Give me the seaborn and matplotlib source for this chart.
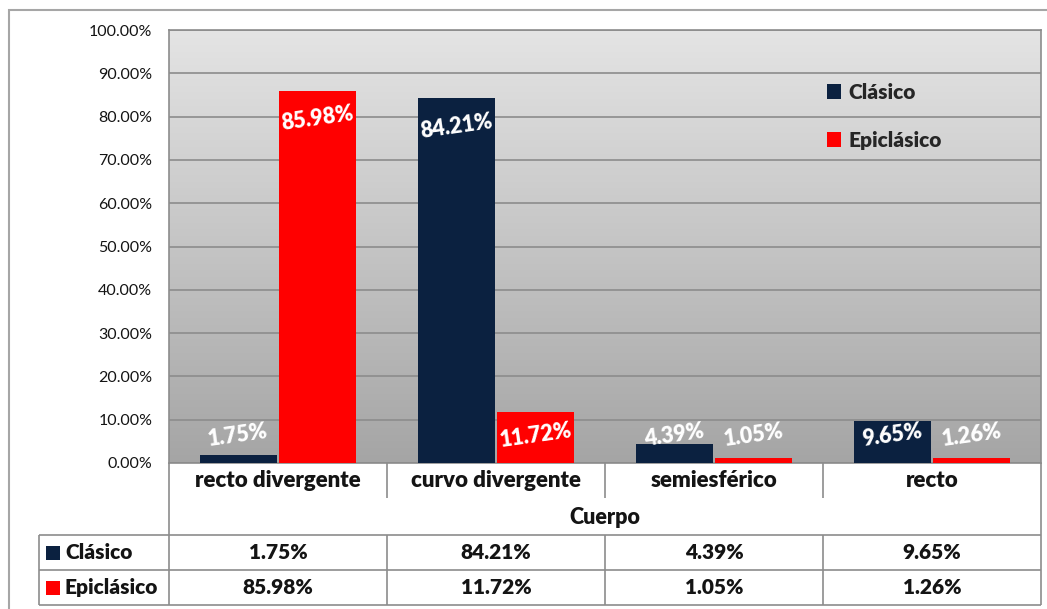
import numpy as np
import pandas as pd
import matplotlib
matplotlib.use("Agg")
import matplotlib.pyplot as plt
from matplotlib.colors import LinearSegmentedColormap
from matplotlib.lines import Line2D
from matplotlib.patches import Rectangle, Patch
import seaborn as sns

# ---- data ----
categorias = ["recto divergente", "curvo divergente", "semiesférico", "recto"]
series = ["Clásico", "Epiclásico"]
clasico = [1.75, 84.21, 4.39, 9.65]
epiclasico = [85.98, 11.72, 1.05, 1.26]
colores = ["#0B2140", "#FF0000"]
yticks = list(range(0, 101, 10))
titulo_eje = "Cuerpo"

sns.set_style("white")
plt.rcParams["font.family"] = ["Lato", "DejaVu Sans"]

df = pd.DataFrame({
    "categoria": categorias * 2,
    "serie": [series[0]] * 4 + [series[1]] * 4,
    "valor": clasico + epiclasico,
})

# ---- layout (pixels) ----
W, H = 1047, 609
PL, PT, PR, PB = 169, 30, 1041, 463      # plot area
TL, TB = 39, 605                          # data table left / bottom
GRID = "#8C8C8C"
TXT = "#141414"
WB = "heavy"

fig = plt.figure(figsize=(W / 100, H / 100), dpi=100)
fig.patch.set_facecolor("white")


def box(l, t, r, b):
    return [l / W, 1 - b / H, (r - l) / W, (b - t) / H]


ax = fig.add_axes(box(PL, PT, PR, PB))

# gradient background of the plot area
cmap = LinearSegmentedColormap.from_list("fondo", ["#E4E4E4", "#A5A5A5"])
ax.imshow(np.linspace(0, 1, 256).reshape(-1, 1), cmap=cmap, aspect="auto",
          extent=(-0.5, len(categorias) - 0.5, 0, 100), zorder=0)

sns.barplot(data=df, x="categoria", y="valor", hue="serie", order=categorias,
            hue_order=series, palette=colores, saturation=1, width=0.73,
            gap=0.03, legend=False, ax=ax, zorder=3, linewidth=0,
            edgecolor="none")

ax.set_xlim(-0.5, len(categorias) - 0.5)
ax.set_ylim(0, 100)
ax.set_yticks(yticks)
ax.set_yticklabels([f"{t:.2f}%" for t in yticks], fontsize=11.5, color=TXT)
ax.tick_params(axis="y", length=0, pad=12)
ax.set_xticks([])
ax.set_xlabel("")
ax.set_ylabel("")
ax.yaxis.grid(True, color=GRID, lw=1.2, zorder=1)
ax.set_axisbelow(True)
for s in ax.spines.values():
    s.set_color(GRID)
    s.set_linewidth(1.2)

# data labels
for cont in ax.containers:
    for bar in cont:
        v = bar.get_height()
        y = max(v - 6.5, 6.4)
        ax.text(bar.get_x() + bar.get_width() / 2, y, f"{v:.2f}%",
                ha="center", va="center", rotation=8, color="white",
                fontsize=15.5, fontweight=WB, zorder=5)

# legend
handles = [Patch(facecolor=c, edgecolor="none") for c in colores]
ax.legend(handles, series, loc="upper left",
          bbox_to_anchor=(808 / W, 1 - 64 / H), bbox_transform=fig.transFigure,
          frameon=False, handlelength=0.7, handleheight=0.7,
          handletextpad=0.35, labelspacing=1.4,
          prop={"weight": WB, "size": 15})

# ---- data table below the plot ----
cat_px = (PR - PL) / len(categorias)
x_left = -0.5 - (PL - TL) / cat_px
tax = fig.add_axes(box(TL, PB, PR, TB))
tax.set_xlim(x_left, len(categorias) - 0.5)
tax.set_ylim(TB - PB, 0)
tax.axis("off")

r_cat, r_tit, r_s1, r_s2 = 35, 72, 107, TB - PB
n = len(categorias)


def seg(x0, y0, x1, y1):
    tax.add_line(Line2D([x0, x1], [y0, y1], color=GRID, lw=1.2,
                        clip_on=False, solid_capstyle="butt"))


seg(-0.5, 0, -0.5, r_s2)
seg(n - 0.5, 0, n - 0.5, r_s2)
seg(x_left, r_tit, x_left, r_s2)
for k in range(1, n):
    seg(k - 0.5, 0, k - 0.5, r_cat)
    seg(k - 0.5, r_tit, k - 0.5, r_s2)
for yy in (r_tit, r_s1, r_s2):
    seg(x_left, yy, n - 0.5, yy)

def txt(x, y, s, size, ha="center"):
    tax.text(x, y, s, fontweight=WB, color=TXT, ha=ha, va="center",
             fontsize=size)

for k, c in enumerate(categorias):
    txt(k, r_cat / 2, c, 16)
txt((n - 1) / 2, (r_tit + r_cat) / 2 + 1, titulo_eje, 15.5)

filas = [clasico, epiclasico]
limites = [(r_tit, r_s1), (r_s1, r_s2)]
sq = 14 / cat_px
for (y0, y1), nombre, col, vals in zip(limites, series, colores, filas):
    yc = (y0 + y1) / 2
    xs = x_left + 7 / cat_px
    tax.add_patch(Rectangle((xs, yc - 7), sq, 14, facecolor=col,
                            edgecolor="none", clip_on=False))
    txt(xs + sq + 5 / cat_px, yc, nombre, 15, ha="left")
    for k, v in enumerate(vals):
        txt(k, yc, f"{v:.2f}%", 15)

# outer chart border
fig.add_artist(Rectangle((9 / W, -0.02), 1.1, 1 - 10 / H + 0.02,
                         transform=fig.transFigure, fill=False,
                         edgecolor="#A6A6A6", lw=1.5))

fig.savefig("out.png", dpi=100)
